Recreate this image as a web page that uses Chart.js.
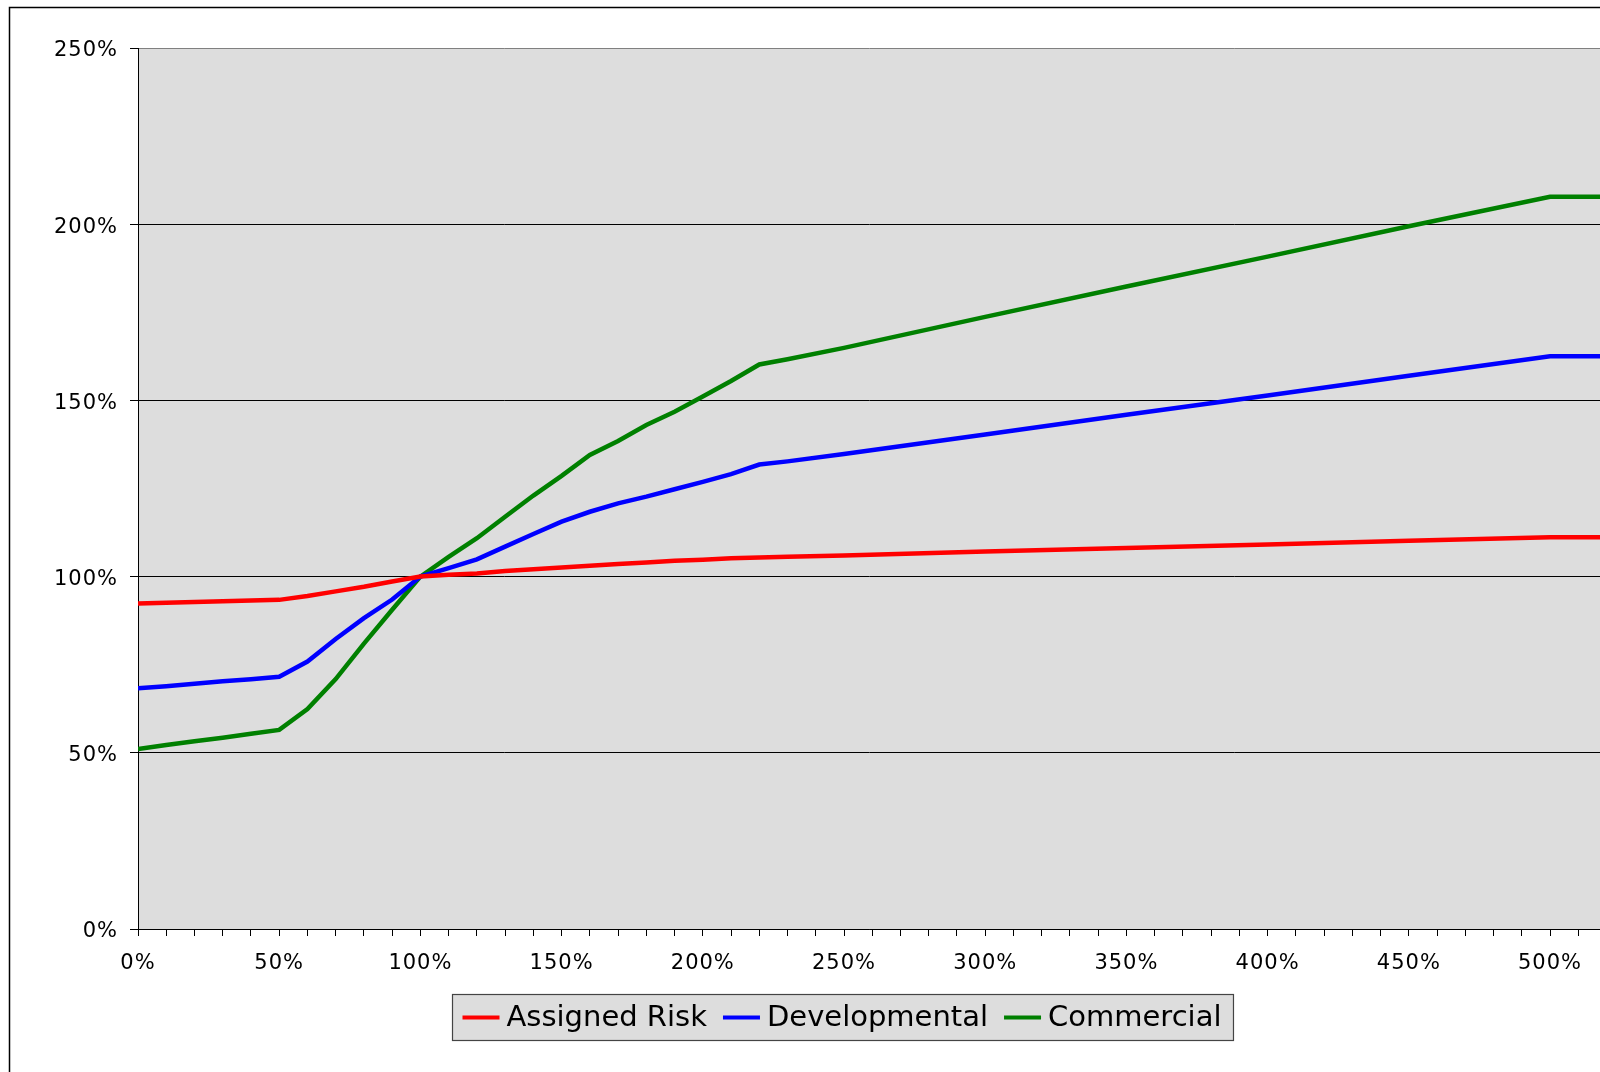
<!DOCTYPE html>
<html>
<head>
<meta charset="utf-8">
<title>Loss ratio adjustment curves</title>
<script src="https://cdn.jsdelivr.net/npm/chart.js@4/dist/chart.umd.min.js"></script>
<style>
  html, body { margin: 0; padding: 0; background: #ffffff; overflow: hidden; }
  canvas { display: block; }
</style>
</head>
<body>
<canvas id="chart" width="1600" height="1072"></canvas>
<script>
// Loss ratio (%) along the horizontal axis
const lossRatio = [0, 10, 20, 30, 40, 50, 60, 70, 80, 90, 100, 110, 120, 130, 140, 150, 160, 170, 180, 190, 200, 210, 220, 230, 250, 300, 350, 400, 450, 500, 520];

// Adjustment factor (%) for each plan
const assignedRisk = [92.4, 92.6, 92.8, 93.0, 93.2, 93.4, 94.5, 95.8, 97.1, 98.6, 100, 100.5, 100.9, 101.6, 102.1, 102.6, 103.1, 103.6, 104.0, 104.5, 104.8, 105.2, 105.4, 105.6, 106.0, 107.1, 108.1, 109.1, 110.2, 111.2, 111.2];
const developmental = [68.3, 68.9, 69.6, 70.3, 70.9, 71.6, 75.9, 82.3, 88.2, 93.5, 100, 102.4, 104.9, 108.5, 112.1, 115.6, 118.4, 120.8, 122.7, 124.8, 126.9, 129.1, 131.8, 132.7, 134.8, 140.3, 145.9, 151.4, 157.0, 162.5, 162.5];
const commercial = [51.1, 52.2, 53.3, 54.3, 55.4, 56.5, 62.4, 70.9, 81.0, 90.6, 100, 105.6, 110.9, 117.0, 123.0, 128.6, 134.5, 138.5, 143.0, 146.8, 151.1, 155.5, 160.2, 161.7, 164.9, 173.7, 182.3, 190.8, 199.4, 207.8, 207.8];

// Axis tick values that carry a label
const xTickLabels = [0, 50, 100, 150, 200, 250, 300, 350, 400, 450, 500];
const yTickLabels = [0, 50, 100, 150, 200, 250];

const seriesNames = ['Assigned Risk', 'Developmental', 'Commercial'];
const seriesColors = ['#ff0000', '#0000ff', '#008000'];

const toPoints = (ys) => ys.map((y, i) => ({ x: lossRatio[i], y }));

const AXIS_FONT = { family: 'DejaVu Sans', size: 21 };

// Frame, plot background and text spacing
const framePlugin = {
  id: 'frame',
  beforeDraw(chart) {
    const { ctx, chartArea: a } = chart;
    ctx.save();
    ctx.fillStyle = '#ffffff';
    ctx.fillRect(0, 0, chart.width, chart.height);
    ctx.strokeStyle = '#000000';
    ctx.lineWidth = 1.5;
    ctx.strokeRect(9.5, 7.5, 1800, 1300);
    ctx.fillStyle = '#dddddd';
    ctx.fillRect(a.left, a.top, a.right - a.left, a.bottom - a.top);
    ctx.restore();
    ctx.letterSpacing = '1px';
  },
  afterDraw(chart) {
    chart.ctx.letterSpacing = '0px';
  }
};

// Boxed legend below the plot
const boxLegendPlugin = {
  id: 'boxLegend',
  afterDraw(chart) {
    const ctx = chart.ctx;
    ctx.save();
    ctx.font = '29px "DejaVu Sans"';
    const items = chart.data.datasets.map(ds => ({
      label: ds.label, color: ds.borderColor, w: ctx.measureText(ds.label).width
    }));
    const lineLen = 37, gapLT = 7, gapItems = 16, padL = 10, padR = 12;
    const total = padL + padR + items.reduce((s, it) => s + lineLen + gapLT + it.w, 0) + gapItems * (items.length - 1);
    const cx = 842.5;
    const boxX = Math.round(cx - total / 2) + 0.5;
    const boxY = 994.5, boxH = 46;
    ctx.fillStyle = '#dddddd';
    ctx.fillRect(boxX, boxY, total, boxH);
    ctx.strokeStyle = '#444444';
    ctx.lineWidth = 1.2;
    ctx.strokeRect(boxX, boxY, total, boxH);
    let x = boxX + padL;
    const y = boxY + boxH / 2;
    ctx.textBaseline = 'middle';
    ctx.textAlign = 'left';
    items.forEach((it) => {
      ctx.strokeStyle = it.color;
      ctx.lineWidth = 4;
      ctx.beginPath();
      ctx.moveTo(x, y);
      ctx.lineTo(x + lineLen, y);
      ctx.stroke();
      x += lineLen + gapLT;
      ctx.fillStyle = '#000000';
      ctx.fillText(it.label, x, y + 1);
      x += it.w + gapItems;
    });
    ctx.restore();
  }
};

const datasets = [assignedRisk, developmental, commercial].map((ys, i) => ({
  label: seriesNames[i],
  data: toPoints(ys),
  borderColor: seriesColors[i],
  backgroundColor: seriesColors[i],
  borderWidth: 4.5,
  pointRadius: 0,
  tension: 0,
  fill: false
}));

new Chart(document.getElementById('chart'), {
  type: 'line',
  data: { datasets },
  options: {
    responsive: false,
    devicePixelRatio: 1,
    animation: false,
    events: [],
    layout: { padding: { left: 10, top: 48, right: 0, bottom: 0 } },
    plugins: {
      legend: { display: false },
      tooltip: { enabled: false },
      title: { display: false }
    },
    scales: {
      x: {
        type: 'linear',
        min: 0,
        max: 517.7,
        afterFit(scale) { scale.height = 143; },
        ticks: {
          stepSize: 10,
          includeBounds: false,
          autoSkip: false,
          maxRotation: 0,
          minRotation: 0,
          padding: 15,
          color: '#000000',
          font: AXIS_FONT,
          callback: (v) => xTickLabels.includes(v) ? v + '%' : ''
        },
        grid: {
          drawOnChartArea: false,
          drawTicks: true,
          tickLength: 7,
          tickColor: '#000000',
          tickWidth: 1
        },
        border: { display: true, color: '#000000', width: 1 }
      },
      y: {
        min: 0,
        max: 250,
        afterFit(scale) { scale.width = 128; },
        ticks: {
          stepSize: 50,
          padding: 12,
          labelOffset: 3,
          color: '#000000',
          font: AXIS_FONT,
          callback: (v) => yTickLabels.includes(v) ? v + '%' : ''
        },
        grid: {
          color: (c) => (c.tick && c.tick.value === 250) ? '#808080' : '#000000',
          lineWidth: 1,
          tickLength: 8,
          tickColor: '#000000'
        },
        border: { display: true, color: '#000000', width: 1 }
      }
    }
  },
  plugins: [framePlugin, boxLegendPlugin]
});
</script>
</body>
</html>
